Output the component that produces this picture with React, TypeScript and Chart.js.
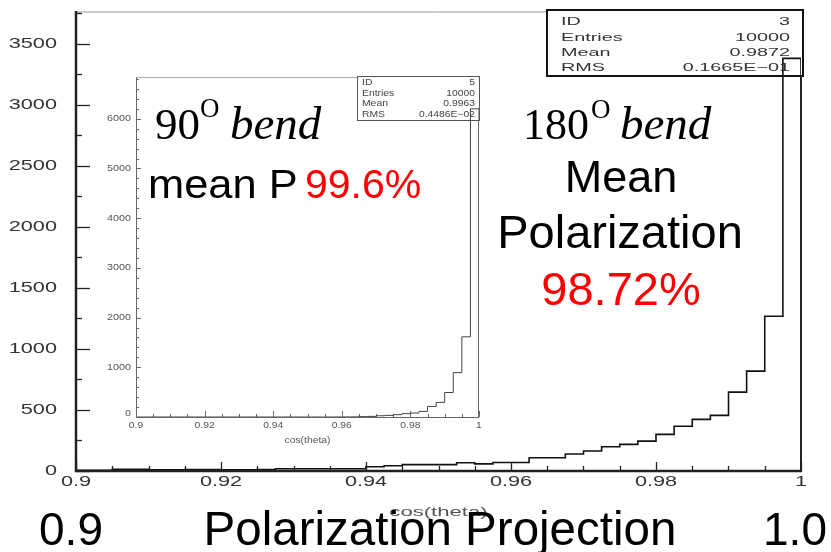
import React, { useEffect, useRef } from "react";
import { Chart, registerables } from "chart.js";
Chart.register(...registerables);

// ---- data ----
const BIN_LO = 0.9;
const BIN_HI = 1.0;
const BIN_WIDTH = 0.0025;

// 180 degree bend (main histogram), 40 bins from 0.9 to 1.0
const mainCounts = [
  6, 6, 14, 14, 10, 10, 12, 12, 10, 10,
  12, 18, 18, 18, 18, 18, 35, 43, 52, 52,
  52, 68, 58, 70, 70, 109, 109, 139, 164, 199,
  218, 245, 300, 366, 423, 456, 646, 818, 1268, 3380,
];

// 90 degree bend (inset histogram)
const insetCounts = [
  0, 0, 0, 0, 0, 0, 0, 0, 0, 0,
  0, 0, 0, 0, 0, 0, 0, 0, 0, 0,
  0, 0, 0, 1, 2, 3, 8, 12, 25, 33,
  47, 67, 80, 113, 213, 293, 493, 893, 1613, 6200,
];

const MAIN_Y_MAX = 3760;
const INSET_Y_MAX = 6830;

const mainXTicks = [0.9, 0.92, 0.94, 0.96, 0.98, 1.0];
const mainXTickLabels = ["0.9", "0.92", "0.94", "0.96", "0.98", "1"];
const mainYTicks = [0, 500, 1000, 1500, 2000, 2500, 3000, 3500];
const mainYTickLabels = ["0", "500", "1000", "1500", "2000", "2500", "3000", "3500"];

const insetXTicks = [0.9, 0.92, 0.94, 0.96, 0.98, 1.0];
const insetXTickLabels = ["0.9", "0.92", "0.94", "0.96", "0.98", "1"];
const insetYTicks = [0, 1000, 2000, 3000, 4000, 5000, 6000];
const insetYTickLabels = ["0", "1000", "2000", "3000", "4000", "5000", "6000"];

const mainStats: [string, string][] = [
  ["ID", "3"],
  ["Entries", "10000"],
  ["Mean", "0.9872"],
  ["RMS", "0.1665E\u221201"],
];
const insetStats: [string, string][] = [
  ["ID", "5"],
  ["Entries", "10000"],
  ["Mean", "0.9963"],
  ["RMS", "0.4486E\u221202"],
];

const AXIS_TITLE = "cos(theta)";

function histPoints(counts: number[]) {
  const pts: { x: number; y: number }[] = [{ x: BIN_LO, y: 0 }];
  counts.forEach((c, i) => pts.push({ x: BIN_LO + i * BIN_WIDTH, y: c }));
  pts.push({ x: BIN_HI, y: counts[counts.length - 1] });
  pts.push({ x: BIN_HI, y: 0 });
  return pts;
}

function drawText(
  ctx: CanvasRenderingContext2D,
  text: string,
  x: number,
  y: number,
  font: string,
  color: string,
  align: "left" | "center" | "right",
  scaleX = 1,
  baseline: CanvasTextBaseline = "alphabetic"
) {
  ctx.save();
  ctx.font = font;
  ctx.fillStyle = color;
  ctx.textBaseline = baseline;
  ctx.textAlign = "left";
  const w = ctx.measureText(text).width * scaleX;
  const x0 = align === "left" ? x : align === "center" ? x - w / 2 : x - w;
  ctx.translate(x0, y);
  ctx.scale(scaleX, 1);
  ctx.fillText(text, 0, 0);
  ctx.restore();
}

function line(ctx: CanvasRenderingContext2D, x1: number, y1: number, x2: number, y2: number, color: string, w: number) {
  ctx.save();
  ctx.strokeStyle = color;
  ctx.lineWidth = w;
  ctx.beginPath();
  ctx.moveTo(x1, y1);
  ctx.lineTo(x2, y2);
  ctx.stroke();
  ctx.restore();
}

const SANS = "'Liberation Sans', Arial, sans-serif";
const SERIF = "'Liberation Serif', 'Times New Roman', serif";

const mainPlugin = {
  id: "mainDecor",
  beforeDatasetsDraw(chart: any) {
    const ctx: CanvasRenderingContext2D = chart.ctx;
    const { left, right, top, bottom } = chart.chartArea;
    const xs = chart.scales.x;
    const ys = chart.scales.y;
    // frame
    line(ctx, left, top, right, top, "#999", 1);
    // y ticks
    for (let v = 0; v <= MAIN_Y_MAX; v += 250) {
      const py = Math.round(ys.getPixelForValue(v)) + 0.5;
      const major = v % 500 === 0;
      line(ctx, left, py, left + (major ? 14 : 6), py, "#222", 1.3);
    }
    mainYTicks.forEach((v, i) => {
      const py = ys.getPixelForValue(v);
      drawText(ctx, mainYTickLabels[i], 57, py, `14px ${SANS}`, "#333", "right", 1.55, "middle");
    });
    // x ticks
    for (let k = 0; k <= 20; k++) {
      const v = BIN_LO + k * 0.005;
      const px = Math.round(xs.getPixelForValue(v)) + 0.5;
      const major = k % 4 === 0;
      line(ctx, px, bottom, px, bottom - (major ? 9 : 5), "#222", 1.3);
    }
    mainXTicks.forEach((v, i) => {
      const px = xs.getPixelForValue(v);
      drawText(ctx, mainXTickLabels[i], px, bottom + 11, `14px ${SANS}`, "#333", "center", 1.55, "middle");
    });
    // axis title
    drawText(ctx, AXIS_TITLE, (left + right) / 2, 512, `13px ${SANS}`, "#555", "center", 1.7, "middle");
    // stats box
    const bx = 547, by = 10, bw = 256, bh = 66;
    ctx.save();
    ctx.fillStyle = "#fff";
    ctx.fillRect(bx, by, bw, bh);
    ctx.strokeStyle = "#111";
    ctx.lineWidth = 2;
    ctx.strokeRect(bx, by, bw, bh);
    ctx.restore();
    const rows = [22, 37.5, 53, 68];
    mainStats.forEach(([k, v], i) => {
      drawText(ctx, k, 561, rows[i], `11px ${SANS}`, "#333", "left", 1.8, "middle");
      drawText(ctx, v, 790, rows[i], `11px ${SANS}`, "#333", "right", 1.8, "middle");
    });
  },
  afterDatasetsDraw(chart: any) {
    const ctx: CanvasRenderingContext2D = chart.ctx;
    const { left, right, top, bottom } = chart.chartArea;
    line(ctx, left, top - 1, left, bottom + 1, "#222", 2.5);
    line(ctx, left - 1, bottom, right + 1, bottom, "#222", 2.5);
    line(ctx, right, 76, right, bottom, "#222", 2);

    // annotations
    drawText(ctx, "180", 523, 139, `44px ${SERIF}`, "#000", "left");
    drawText(ctx, "O", 591, 118, `27px ${SERIF}`, "#000", "left");
    drawText(ctx, "bend", 620, 139, `italic 47px ${SERIF}`, "#000", "left");
    drawText(ctx, "Mean", 621, 192, `45px ${SANS}`, "#000", "center");
    drawText(ctx, "Polarization", 620, 248, `47px ${SANS}`, "#000", "center");
    drawText(ctx, "98.72%", 621, 305, `47px ${SANS}`, "#ff0000", "center");

    drawText(ctx, "0.9", 71, 545, `46px ${SANS}`, "#000", "center");
    drawText(ctx, "Polarization Projection", 440, 545, `49px ${SANS}`, "#000", "center", 0.97);
    drawText(ctx, "1.0", 795, 545, `46px ${SANS}`, "#000", "center");
  },
};

const INSET_LEFT = 96;
const INSET_TOP = 66;

const insetPlugin = {
  id: "insetDecor",
  beforeDatasetsDraw(chart: any) {
    const ctx: CanvasRenderingContext2D = chart.ctx;
    const { left, right, top, bottom } = chart.chartArea;
    const xs = chart.scales.x;
    const ys = chart.scales.y;
    line(ctx, left, top, right, top, "#aaa", 1);
    for (let v = 0; v <= INSET_Y_MAX; v += 200) {
      const py = Math.round(ys.getPixelForValue(v)) + 0.5;
      const major = v % 1000 === 0;
      line(ctx, left, py, left + (major ? 5 : 3), py, "#666", 1);
    }
    insetYTicks.forEach((v, i) => {
      const py = ys.getPixelForValue(v);
      drawText(ctx, insetYTickLabels[i], left - 5, py - (v === 0 ? 3 : 0), `9px ${SANS}`, "#555", "right", 1.2, "middle");
    });
    for (let k = 0; k <= 20; k++) {
      const v = BIN_LO + k * 0.005;
      const px = Math.round(xs.getPixelForValue(v)) + 0.5;
      const major = k % 4 === 0;
      line(ctx, px, bottom, px, bottom - (major ? 6 : 3), "#666", 1);
    }
    insetXTicks.forEach((v, i) => {
      const px = xs.getPixelForValue(v);
      drawText(ctx, insetXTickLabels[i], px, bottom + 9, `9px ${SANS}`, "#555", "center", 1.15, "middle");
    });
    drawText(ctx, AXIS_TITLE, (left + right) / 2, bottom + 24, `9px ${SANS}`, "#555", "center", 1.15, "middle");
    // stats box
    const bx = 357 - INSET_LEFT + 0.5, by = 76 - INSET_TOP + 0.5, bw = 122, bh = 44;
    ctx.save();
    ctx.fillStyle = "#fff";
    ctx.fillRect(bx, by, bw, bh);
    ctx.strokeStyle = "#555";
    ctx.lineWidth = 1;
    ctx.strokeRect(bx, by, bw, bh);
    ctx.restore();
    const rows = [82.5, 93.5, 104, 114.5];
    insetStats.forEach(([k, v], i) => {
      drawText(ctx, k, 362 - INSET_LEFT, rows[i] - INSET_TOP, `9px ${SANS}`, "#444", "left", 1.15, "middle");
      drawText(ctx, v, 475 - INSET_LEFT, rows[i] - INSET_TOP, `9px ${SANS}`, "#444", "right", 1.15, "middle");
    });
  },
  afterDatasetsDraw(chart: any) {
    const ctx: CanvasRenderingContext2D = chart.ctx;
    const { left, right, top, bottom } = chart.chartArea;
    line(ctx, left + 0.5, top, left + 0.5, bottom, "#666", 1);
    line(ctx, left, bottom + 0.5, right, bottom + 0.5, "#666", 1);
    line(ctx, right - 0.5, 120 - INSET_TOP, right - 0.5, bottom, "#666", 1);

    const ox = -INSET_LEFT, oy = -INSET_TOP;
    drawText(ctx, "90", 155 + ox, 139 + oy, `45px ${SERIF}`, "#000", "left");
    drawText(ctx, "O", 200 + ox, 117 + oy, `27px ${SERIF}`, "#000", "left");
    drawText(ctx, "bend", 230 + ox, 139 + oy, `italic 47px ${SERIF}`, "#000", "left");
    drawText(ctx, "mean P", 148 + ox, 198 + oy, `41px ${SANS}`, "#000", "left", 1.06);
    drawText(ctx, "99.6%", 305 + ox, 198 + oy, `41px ${SANS}`, "#ff0000", "left");
  },
};

export default function App() {
  const mainRef = useRef<HTMLCanvasElement>(null);
  const insetRef = useRef<HTMLCanvasElement>(null);

  useEffect(() => {
    const main = new Chart(mainRef.current!, {
      type: "line",
      data: {
        datasets: [
          {
            data: histPoints(mainCounts),
            stepped: true,
            borderColor: "#111",
            borderWidth: 1.6,
            pointRadius: 0,
            fill: false,
          },
        ],
      },
      options: {
        responsive: false,
        animation: false,
        layout: { padding: { left: 76, top: 12, right: 30, bottom: 81 } },
        scales: {
          x: { type: "linear", min: BIN_LO, max: BIN_HI, display: false },
          y: { type: "linear", min: 0, max: MAIN_Y_MAX, display: false },
        },
        plugins: { legend: { display: false }, tooltip: { enabled: false } },
        events: [],
      },
      plugins: [mainPlugin],
    } as any);

    const inset = new Chart(insetRef.current!, {
      type: "line",
      data: {
        datasets: [
          {
            data: histPoints(insetCounts),
            stepped: true,
            borderColor: "#444",
            borderWidth: 1,
            pointRadius: 0,
            fill: false,
          },
        ],
      },
      options: {
        responsive: false,
        animation: false,
        layout: { padding: { left: 40, top: 11.5, right: 7, bottom: 31 } },
        scales: {
          x: { type: "linear", min: BIN_LO, max: BIN_HI, display: false },
          y: { type: "linear", min: 0, max: INSET_Y_MAX, display: false },
        },
        plugins: { legend: { display: false }, tooltip: { enabled: false } },
        events: [],
      },
      plugins: [insetPlugin],
    } as any);

    return () => {
      main.destroy();
      inset.destroy();
    };
  }, []);

  return (
    <div style={{ position: "absolute", left: 0, top: 0, width: 831, height: 552, background: "#fff" }}>
      <canvas ref={mainRef} width={831} height={552} style={{ position: "absolute", left: 0, top: 0 }} />
      <canvas
        ref={insetRef}
        width={390}
        height={382}
        style={{ position: "absolute", left: INSET_LEFT, top: INSET_TOP }}
      />
    </div>
  );
}
